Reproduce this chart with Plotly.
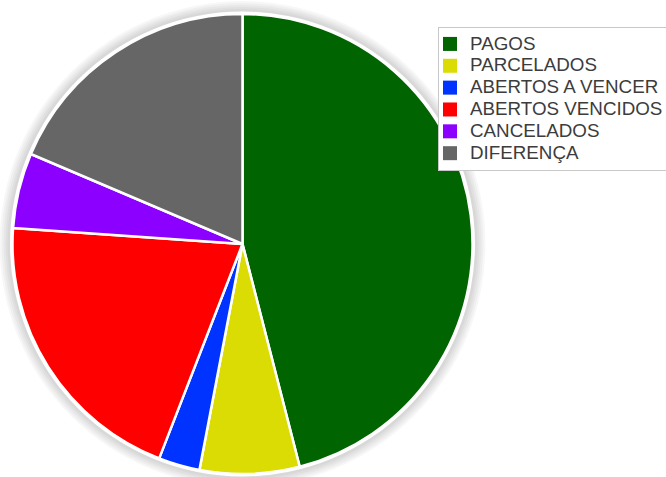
import plotly.graph_objects as go

labels = ["PAGOS", "PARCELADOS", "ABERTOS A VENCER", "ABERTOS VENCIDOS", "CANCELADOS", "DIFERENÇA"]
values = [46.0, 7.0, 2.9, 20.2, 5.3, 18.6]
colors = ["#006400", "#dcdc05", "#0033ff", "#ff0000", "#8c00ff", "#666666"]

W, H = 666, 477
ML, MR, MT, MB = 12, 193, 14, 3
pw, ph = W - ML - MR, H - MT - MB
cx, cy = ML + pw / 2, MT + ph / 2
R = min(pw, ph) / 2


def circ(rpx, fill):
    return dict(
        type="circle", xref="paper", yref="paper", layer="below",
        x0=(cx - rpx - ML) / pw, x1=(cx + rpx - ML) / pw,
        y0=1 - (cy + rpx - MT) / ph, y1=1 - (cy - rpx - MT) / ph,
        fillcolor=fill, line=dict(width=0),
    )


shapes = [circ(R + d, "rgba(0,0,0,0.03)") for d in (13, 11, 9, 7, 5)]
shapes.append(circ(R + 2.5, "#ffffff"))

fig = go.Figure()
fig.add_trace(
    go.Pie(
        labels=labels,
        values=values,
        sort=False,
        direction="clockwise",
        rotation=0,
        textinfo="none",
        showlegend=False,
        marker=dict(colors=colors, line=dict(color="#ffffff", width=2.5)),
    )
)
# legend entries (square swatches) for the pie slices
for lab, col in zip(labels, colors):
    fig.add_trace(
        go.Scatter(
            x=[None], y=[None], mode="markers",
            name=f'<span style="font-size:18.8px">{lab}</span>',
            marker=dict(symbol="square", size=14, color=col),
            showlegend=True, hoverinfo="skip",
        )
    )

fig.update_layout(
    width=W, height=H,
    margin=dict(l=ML, r=MR, t=MT, b=MB, autoexpand=False),
    paper_bgcolor="#ffffff", plot_bgcolor="rgba(0,0,0,0)",
    xaxis=dict(visible=False), yaxis=dict(visible=False),
    shapes=shapes,
    legend=dict(
        x=(438 - ML) / pw, xanchor="left",
        y=1 - (27 - MT) / ph, yanchor="top",
        bgcolor="#ffffff", bordercolor="#c8c8c8", borderwidth=1,
        font=dict(family="Arial, Liberation Sans, sans-serif", size=14.5, color="#3c3c3c"),
        indentation=-9,
        traceorder="normal",
        itemsizing="trace",
    ),
)

fig.write_html(
    "out.html",
    config={"displayModeBar": False},
    post_script="document.body.style.margin='0';document.body.style.overflow='hidden';",
)
